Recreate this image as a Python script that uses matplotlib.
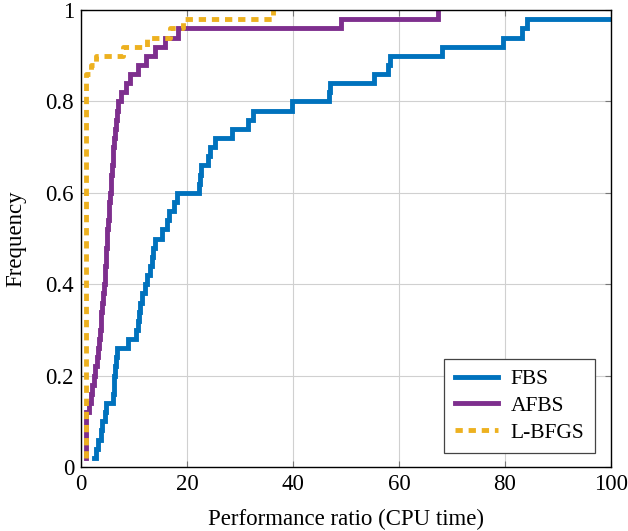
import numpy as np
import matplotlib
matplotlib.use("Agg")
import matplotlib.pyplot as plt
from matplotlib.ticker import FuncFormatter

# performance ratios (sorted), 50 problems
fbs_ratio = [2.4, 2.9, 3.2, 3.7, 4.0, 4.5, 4.8, 6.1, 6.2, 6.3,
             6.5, 6.6, 6.8, 8.9, 10.4, 10.7, 11.0, 11.2, 11.5, 12.0,
             12.5, 13.0, 13.4, 13.6, 14.0, 15.3, 16.3, 16.6, 17.6, 18.1,
             22.2, 22.5, 22.7, 24.0, 24.3, 25.3, 28.4, 31.5, 32.5, 39.8,
             46.7, 47.0, 55.2, 58.0, 58.3, 68.1, 79.7, 83.2, 84.1, 150.0]

afbs_ratio = [1.0, 1.0, 1.0, 1.0, 1.0, 1.0, 1.5, 1.8, 2.1, 2.4,
              2.7, 3.0, 3.2, 3.4, 3.55, 3.7, 3.85, 4.0, 4.2, 4.35,
              4.45, 4.55, 4.65, 4.75, 4.85, 4.9, 5.05, 5.2, 5.35, 5.5,
              5.6, 5.75, 5.85, 6.0, 6.1, 6.2, 6.4, 6.6, 6.8, 7.0,
              7.6, 8.5, 9.2, 10.8, 12.3, 13.9, 15.8, 18.3, 49.0, 67.4]

lbfgs_ratio = [1.0] * 43 + [1.8, 2.9, 7.9, 12.5, 16.8, 19.3, 36.3]

labels = ["FBS", "AFBS", "L-BFGS"]
colors = ["#0072BD", "#7E2F8E", "#EDB120"]

plt.rcParams["font.family"] = ["Liberation Serif", "DejaVu Serif"]
plt.rcParams["font.size"] = 16.5

fig = plt.figure(figsize=(6.28, 5.31), dpi=100)
ax = fig.add_axes([0.129, 0.1205, 0.844, 0.8605])

for ratios, lab, col in zip([fbs_ratio, afbs_ratio, lbfgs_ratio], labels, colors):
    r = np.sort(np.array(ratios))
    freq = np.arange(1, len(r) + 1) / len(r)
    if lab == "L-BFGS":
        ax.plot(r, freq, drawstyle="steps-post", color=col, lw=3.5,
                dashes=(1.5, 1.2), label=lab)
    else:
        ax.plot(r, freq, drawstyle="steps-post", color=col, lw=3.5,
                label=lab, solid_joinstyle="miter")

ax.set_xlim(0, 100)
ax.set_ylim(0, 1)
ax.set_xticks(np.arange(0, 101, 20))
ax.set_yticks(np.arange(0, 1.01, 0.2))
ax.yaxis.set_major_formatter(FuncFormatter(lambda v, p: f"{v:g}"))
ax.grid(True, color="#d0d0d0", lw=0.8)
ax.set_axisbelow(True)
ax.tick_params(direction="in", top=True, right=True, length=4, color="#777777", pad=5)
for s in ax.spines.values():
    s.set_linewidth(1.0)

ax.set_xlabel("Performance ratio (CPU time)", labelpad=10)
ax.set_ylabel("Frequency", labelpad=14)

leg = ax.legend(loc="lower right", bbox_to_anchor=(0.97, 0.03), borderaxespad=0,
                fancybox=False, edgecolor="#444444", framealpha=1, fontsize=15.5,
                handlelength=2.0, borderpad=0.5, labelspacing=0.3, handletextpad=0.6)
leg.get_frame().set_linewidth(0.9)

plt.savefig("out.png", dpi=100)
